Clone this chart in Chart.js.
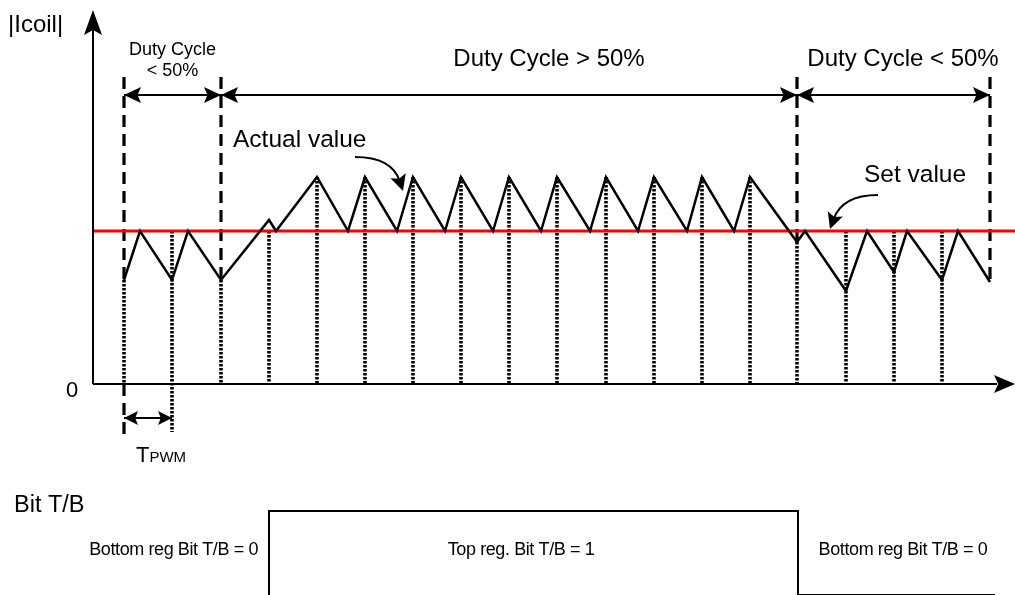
<!DOCTYPE html>
<html>
<head>
<meta charset="utf-8">
<script src="https://cdn.jsdelivr.net/npm/chart.js@4.4.1/dist/chart.umd.min.js"></script>
<style>
  body { margin: 0; background: #fff; }
  canvas { display: block; }
</style>
</head>
<body>
<canvas id="coilChart" width="1015" height="470"></canvas>
<canvas id="bitChart" width="1015" height="125"></canvas>
<script>
// Coil current (arbitrary units) over time (arbitrary units)
const coilTime = [31, 47, 79, 95, 128, 176, 183, 224, 255, 272, 304, 320, 352, 368, 400, 416, 448, 464,
  497, 513, 545, 561, 594, 609, 641, 657, 704, 712, 753, 774, 801, 814, 849, 865, 897];
const coilCurrent = [104, 153, 104, 153, 104, 164, 153, 207, 153, 207, 153, 207, 153, 207, 153, 207, 153, 207,
  153, 207, 153, 207, 153, 207, 153, 207, 142, 153, 93, 153, 112, 153, 104, 153, 102];
const setValue = 153;

// Duty cycle regions
const regionEdges = [31, 128, 704, 897];
const regionNames = [['Duty Cycle', '< 50%'], ['Duty Cycle > 50%'], ['Duty Cycle < 50%']];

// PWM sample instants (dotted markers) and the level each marker starts from
const sampleTimes = [79, 176, 224, 272, 320, 368, 416, 464, 513, 561, 609, 657, 753, 801, 849];
const sampleTops = [153, 153, 207, 207, 207, 207, 207, 207, 207, 207, 207, 207, 153, 153, 153];

// One PWM period
const pwmStart = 31;
const pwmEnd = 79;

// Bit T/B
const bitTime = [176, 176, 705, 705, 902];
const bitState = [0, 1, 1, 0, 0];
const bitLabels = ['Bottom reg Bit T/B = 0', 'Top reg. Bit T/B = 1', 'Bottom reg Bit T/B = 0'];

const FONT = '"Liberation Sans", Arial, Helvetica, sans-serif';
const X_MAX = 922;
const Y_MAX = 374;
const DIM_Y = 289;      // level of the duty cycle dimension arrows
const DASH_TOP = 307;   // where region boundaries start
const BELOW = -53;      // how far the T_PWM markers reach below the axis
const PWM_ARROW_Y = -34;

function currentAt(t) {
  return coilCurrent[coilTime.indexOf(t)];
}

// Build segment lists separated by gaps
function segments(list) {
  const out = [];
  list.forEach(s => {
    out.push({ x: s[0], y: s[1] }, { x: s[2], y: s[3] }, { x: s[2], y: null });
  });
  return out;
}

const dashedSegs = regionEdges.map(t => [t, DASH_TOP, t, currentAt(t)]);
dashedSegs.push([regionEdges[0], 0, regionEdges[0], BELOW]);

const dottedSegs = regionEdges.slice(0, 3).map(t => [t, currentAt(t), t, 0]);
sampleTimes.forEach((t, i) => {
  dottedSegs.push([t, sampleTops[i], t, t === pwmEnd ? BELOW + 5 : 0]);
});

const dimSegs = [];
for (let i = 0; i < regionEdges.length - 1; i++) {
  dimSegs.push([regionEdges[i], DIM_Y, regionEdges[i + 1], DIM_Y]);
}

function arrowHead(ctx, x, y, angle, len, half) {
  ctx.save();
  ctx.translate(x, y);
  ctx.rotate(angle);
  ctx.beginPath();
  ctx.moveTo(0, 0);
  ctx.lineTo(-len, -half);
  ctx.lineTo(-len * 0.8, 0);
  ctx.lineTo(-len, half);
  ctx.closePath();
  ctx.fillStyle = '#000';
  ctx.fill();
  ctx.restore();
}

function text(ctx, str, x, y, size, align) {
  ctx.font = size + 'px ' + FONT;
  ctx.textAlign = align || 'center';
  ctx.textBaseline = 'middle';
  ctx.fillStyle = '#000';
  ctx.fillText(str, x, y);
}

const coilDecor = {
  id: 'coilDecor',
  afterDraw(chart) {
    const ctx = chart.ctx;
    const xs = chart.scales.x;
    const ys = chart.scales.y;
    const X = v => xs.getPixelForValue(v);
    const Y = v => ys.getPixelForValue(v);
    const area = chart.chartArea;

    // axes
    ctx.save();
    ctx.strokeStyle = '#000';
    ctx.lineWidth = 2;
    ctx.beginPath();
    ctx.moveTo(area.left, Y(0));
    ctx.lineTo(area.left, area.top + 20);
    ctx.moveTo(area.left, Y(0));
    ctx.lineTo(area.right - 18, Y(0));
    ctx.stroke();
    arrowHead(ctx, area.left, area.top, -Math.PI / 2, 25, 9);
    arrowHead(ctx, area.right, Y(0), 0, 21, 9);

    // duty cycle dimension arrows
    dimSegs.forEach(s => {
      arrowHead(ctx, X(s[0]), Y(s[1]), Math.PI, 17, 8);
      arrowHead(ctx, X(s[2]), Y(s[3]), 0, 17, 8);
    });

    // T_PWM arrow
    arrowHead(ctx, X(pwmStart), Y(PWM_ARROW_Y), Math.PI, 14, 7);
    arrowHead(ctx, X(pwmEnd), Y(PWM_ARROW_Y), 0, 14, 7);

    // curved pointers
    const curves = [
      [262, 227, 299, 227, 310, 193],
      [785, 189, 749, 189, 737, 155]
    ];
    curves.forEach(c => {
      const x0 = X(c[0]), y0 = Y(c[1]), cx = X(c[2]), cy = Y(c[3]), x1 = X(c[4]), y1 = Y(c[5]);
      const ang = Math.atan2(y1 - cy, x1 - cx);
      ctx.beginPath();
      ctx.moveTo(x0, y0);
      ctx.quadraticCurveTo(cx, cy, x1 - Math.cos(ang) * 10, y1 - Math.sin(ang) * 10);
      ctx.lineWidth = 2;
      ctx.stroke();
      arrowHead(ctx, x1, y1, ang, 16, 8);
    });

    // labels
    text(ctx, '|Icoil|', 8, 25, 24, 'left');
    text(ctx, '0', 72, 391, 22);
    const mid1 = (regionEdges[0] + regionEdges[1]) / 2;
    text(ctx, regionNames[0][0], X(mid1), 50, 18);
    text(ctx, regionNames[0][1], X(mid1), 71, 18);
    text(ctx, regionNames[1][0], X(456), 59, 24);
    text(ctx, regionNames[2][0], X(810), 59, 24);
    text(ctx, 'Actual value', X(140), Y(244), 24.5, 'left');
    text(ctx, 'Set value', X(822), Y(209), 24.5);

    ctx.font = '22px ' + FONT;
    ctx.textAlign = 'left';
    ctx.textBaseline = 'alphabetic';
    ctx.fillText('T', 136, 462);
    const tw = ctx.measureText('T').width;
    ctx.font = '15px ' + FONT;
    ctx.fillText('PWM', 136 + tw, 462);
    ctx.restore();
  }
};

new Chart(document.getElementById('coilChart'), {
  type: 'line',
  data: {
    datasets: [
      {
        label: 'Actual value',
        data: coilTime.map((t, i) => ({ x: t, y: coilCurrent[i] })),
        borderColor: '#000',
        borderWidth: 2.5,
        pointRadius: 0,
        tension: 0,
        clip: false
      },
      {
        label: 'Set value',
        data: [{ x: 0, y: setValue }, { x: X_MAX, y: setValue }],
        borderColor: '#ff0000',
        borderWidth: 3,
        pointRadius: 0,
        clip: false
      },
      {
        label: 'Region boundaries',
        data: segments(dashedSegs),
        borderColor: '#000',
        borderWidth: 3.2,
        borderDash: [12, 7],
        borderCapStyle: 'butt',
        pointRadius: 0,
        clip: false
      },
      {
        label: 'PWM instants',
        data: segments(dottedSegs),
        borderColor: '#000',
        borderWidth: 3.6,
        borderDash: [2.6, 1.4],
        borderCapStyle: 'butt',
        pointRadius: 0,
        clip: false
      },
      {
        label: 'Duty cycle spans',
        data: segments(dimSegs),
        borderColor: '#000',
        borderWidth: 2,
        pointRadius: 0,
        clip: false
      },
      {
        label: 'TPWM',
        data: [{ x: pwmStart, y: PWM_ARROW_Y }, { x: pwmEnd, y: PWM_ARROW_Y }],
        borderColor: '#000',
        borderWidth: 2,
        pointRadius: 0,
        clip: false
      }
    ]
  },
  options: {
    responsive: false,
    animation: false,
    layout: { padding: { left: 93, right: 0, top: 10, bottom: 86 } },
    plugins: { legend: { display: false }, tooltip: { enabled: false } },
    scales: {
      x: { type: 'linear', min: 0, max: X_MAX, display: false },
      y: { type: 'linear', min: 0, max: Y_MAX, display: false }
    }
  },
  plugins: [coilDecor]
});

const bitDecor = {
  id: 'bitDecor',
  afterDraw(chart) {
    const ctx = chart.ctx;
    const X = v => chart.scales.x.getPixelForValue(v);
    ctx.save();
    text(ctx, 'Bit T/B', 14, 36, 23.5, 'left');
    ctx.letterSpacing = '-0.4px';
    text(ctx, bitLabels[0], X(bitTime[0]) - 11, 80, 18, 'right');
    text(ctx, bitLabels[1], X(428), 80, 18);
    text(ctx, bitLabels[2], X(810), 80, 18);
    ctx.restore();
  }
};

new Chart(document.getElementById('bitChart'), {
  type: 'line',
  data: {
    datasets: [{
      label: 'Bit T/B',
      data: bitTime.map((t, i) => ({ x: t, y: bitState[i] })),
      borderColor: '#000',
      borderWidth: 2,
      pointRadius: 0,
      clip: false
    }]
  },
  options: {
    responsive: false,
    animation: false,
    layout: { padding: { left: 93, right: 0, top: 41, bottom: 0 } },
    plugins: { legend: { display: false }, tooltip: { enabled: false } },
    scales: {
      x: { type: 'linear', min: 0, max: X_MAX, display: false },
      y: { type: 'linear', min: 0, max: 1, display: false }
    }
  },
  plugins: [bitDecor]
});
</script>
</body>
</html>
